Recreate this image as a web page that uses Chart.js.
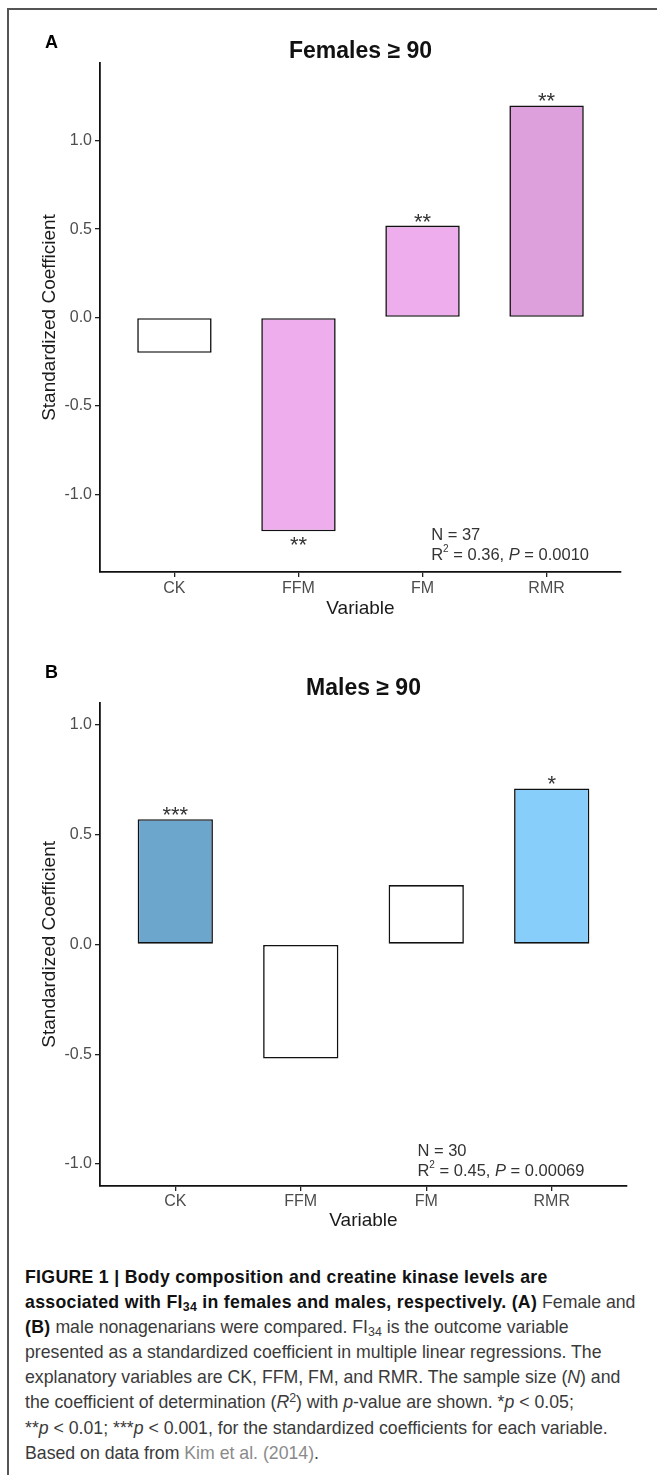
<!DOCTYPE html>
<html>
<head>
<meta charset="utf-8">
<script src="https://cdn.jsdelivr.net/npm/chart.js@4"></script>
<style>
html, body { margin: 0; padding: 0; background: #fff; }
body { width: 657px; height: 1475px; position: relative; overflow: hidden; font-family: 'Liberation Sans', Arial, sans-serif; }
#frame { position: absolute; left: 7px; top: 8px; width: 700px; height: 1500px; border-left: 2px solid #555; border-top: 2px solid #555; }
canvas { position: absolute; left: 0; }
#chartA { top: 0; }
#chartB { top: 640px; }
#caption { position: absolute; left: 25px; top: 1265px; font-size: 17.7px; line-height: 25.1px; color: #3a3a3a; white-space: nowrap; }
#caption b { color: #111; letter-spacing: 0.3px; }
#caption sub { font-size: 0.7em; vertical-align: -0.25em; line-height: 0; }
#caption sup { font-size: 0.7em; vertical-align: 0.5em; line-height: 0; }
#caption .link { color: #8a8a8a; }
</style>
</head>
<body>
<div id="frame"></div>
<canvas id="chartA" width="657" height="630"></canvas>
<canvas id="chartB" width="657" height="600"></canvas>
<div id="caption">
<b>FIGURE 1 | Body composition and creatine kinase levels are</b><br>
<b>associated with FI<sub>34</sub> in females and males, respectively. (A)</b> Female and<br>
<b>(B)</b> male nonagenarians were compared. FI<sub>34</sub> is the outcome variable<br>
presented as a standardized coefficient in multiple linear regressions. The<br>
explanatory variables are CK, FFM, FM, and RMR. The sample size (<i>N</i>) and<br>
the coefficient of determination (<i>R</i><sup>2</sup>) with <i>p</i>-value are shown. *<i>p</i> &lt; 0.05;<br>
**<i>p</i> &lt; 0.01; ***<i>p</i> &lt; 0.001, for the standardized coefficients for each variable.<br>
Based on data from <span class="link">Kim et al. (2014)</span>.
</div>
<script>
var categories = ['CK', 'FFM', 'FM', 'RMR'];
var femaleCoef = [-0.20, -1.21, 0.52, 1.20];
var maleCoef = [0.57, -0.52, 0.27, 0.71];
var femaleStars = ['', '**', '**', '**'];
var maleStars = ['***', '', '', '*'];
var yTicks = [-1, -0.5, 0, 0.5, 1];
var yTickLabels = ['-1.0', '-0.5', '0.0', '0.5', '1.0'];
var femaleStats = { n: '37', r2: '0.36', p: '0.0010' };
var maleStats = { n: '30', r2: '0.45', p: '0.00069' };

var femaleColors = ['#FFFFFF', '#EEAEEE', '#EEAEEE', '#DDA0DD'];
var maleColors = ['#6CA6CD', '#FFFFFF', '#FFFFFF', '#87CEFA'];

var FONT = "'Liberation Sans', Arial, sans-serif";

// titles, panel letters, significance stars and the N / R2 note
var panelText = {
    id: 'panelText',
    afterDatasetsDraw: function(chart, args, opts) {
        var ctx = chart.ctx;
        var area = chart.chartArea;
        var xs = chart.scales.x, ys = chart.scales.y;
        var bars = chart.getDatasetMeta(0).data;
        ctx.save();
        ctx.fillStyle = '#000';
        ctx.textBaseline = 'middle';
        ctx.textAlign = 'left';
        ctx.font = 'bold 18px ' + FONT;
        ctx.fillText(opts.letter, 45, opts.letterY);
        ctx.textAlign = 'center';
        ctx.font = 'bold 23px ' + FONT;
        ctx.fillStyle = '#111';
        ctx.fillText(opts.title, (area.left + area.right) / 2, opts.titleY);

        ctx.font = '22px ' + FONT;
        ctx.fillStyle = '#333';
        ctx.textBaseline = 'alphabetic';
        bars.forEach(function(bar, i) {
            if (!opts.stars[i]) return;
            var v = opts.values[i];
            ctx.fillText(opts.stars[i], bar.x, v >= 0 ? bar.y + 3 : bar.y + 21);
        });

        var x = xs.getPixelForValue(opts.statsX);
        var y = ys.getPixelForValue(opts.statsY);
        ctx.textAlign = 'left';
        ctx.textBaseline = 'middle';
        ctx.font = '16.5px ' + FONT;
        ctx.fillText('N = ' + opts.stats.n, x, y);
        var y2 = y + 20;
        var parts = [
            ['R', '16.5px ', 0],
            ['2', '10px ', -6],
            [' = ' + opts.stats.r2 + ', ', '16.5px ', 0],
            ['P', 'italic 16.5px ', 0],
            [' = ' + opts.stats.p, '16.5px ', 0]
        ];
        parts.forEach(function(p) {
            ctx.font = p[1] + FONT;
            ctx.fillText(p[0], x, y2 + p[2]);
            x += ctx.measureText(p[0]).width;
        });
        ctx.restore();
    }
};

function buildPanel(canvasId, values, colors, yRange, lay, text) {
    return new Chart(document.getElementById(canvasId), {
        type: 'bar',
        data: {
            datasets: [{
                data: categories.map(function(c, i) { return { x: i + 1, y: values[i] }; }),
                backgroundColor: colors,
                borderColor: '#111',
                borderWidth: 1.6,
                borderSkipped: false,
                barPercentage: 0.6,
                categoryPercentage: 1
            }]
        },
        options: {
            responsive: false,
            animation: false,
            layout: { padding: { left: 0, right: lay.right, top: lay.top, bottom: 0 } },
            plugins: {
                legend: { display: false },
                tooltip: { enabled: false },
                panelText: text
            },
            scales: {
                x: {
                    type: 'linear',
                    offset: false,
                    min: 0.4,
                    max: 4.6,
                    afterBuildTicks: function(s) {
                        s.ticks = categories.map(function(c, i) { return { value: i + 1 }; });
                    },
                    afterFit: function(s) { s.height = lay.xHeight; },
                    ticks: {
                        callback: function(v, i) { return categories[i]; },
                        font: { family: FONT, size: 16 },
                        color: '#4d4d4d',
                        padding: lay.xTickPad,
                        maxRotation: 0,
                        autoSkip: false
                    },
                    grid: { offset: false, drawOnChartArea: false, drawTicks: true, tickLength: 5, color: '#222', lineWidth: 1.3 },
                    border: { display: true, color: '#111', width: 1.8 },
                    title: {
                        display: true,
                        text: 'Variable',
                        font: { family: FONT, size: 19 },
                        color: '#1a1a1a',
                        padding: { top: 0, bottom: lay.xTitlePad }
                    }
                },
                y: {
                    min: yRange[0],
                    max: yRange[1],
                    afterBuildTicks: function(s) {
                        s.ticks = yTicks.map(function(v) { return { value: v }; });
                    },
                    afterFit: function(s) { s.width = 100; },
                    ticks: {
                        callback: function(v, i) { return yTickLabels[i]; },
                        font: { family: FONT, size: 16 },
                        color: '#4d4d4d',
                        padding: 3
                    },
                    grid: { drawOnChartArea: false, drawTicks: true, tickLength: 5, color: '#222', lineWidth: 1.3 },
                    border: { display: true, color: '#111', width: 1.8 },
                    title: {
                        display: true,
                        text: 'Standardized Coefficient',
                        font: { family: FONT, size: 19 },
                        color: '#1a1a1a',
                        padding: { top: 38.6, bottom: 0 }
                    }
                }
            }
        },
        plugins: [panelText]
    });
}

buildPanel('chartA', femaleCoef, femaleColors, [-1.44, 1.44],
    { right: 36, top: 63, xHeight: 58, xTickPad: 2.4, xTitlePad: 9.6 },
    { letter: 'A', letterY: 43, title: 'Females \u2265 90', titleY: 52,
      values: femaleCoef, stars: femaleStars, stats: femaleStats, statsX: 3.07, statsY: -1.232 });

buildPanel('chartB', maleCoef, maleColors, [-1.1, 1.1],
    { right: 30, top: 62.7, xHeight: 54, xTickPad: 1.1, xTitlePad: 7.6 },
    { letter: 'B', letterY: 33, title: 'Males \u2265 90', titleY: 49,
      values: maleCoef, stars: maleStars, stats: maleStats, statsX: 2.93, statsY: -0.941 });
</script>
</body>
</html>
